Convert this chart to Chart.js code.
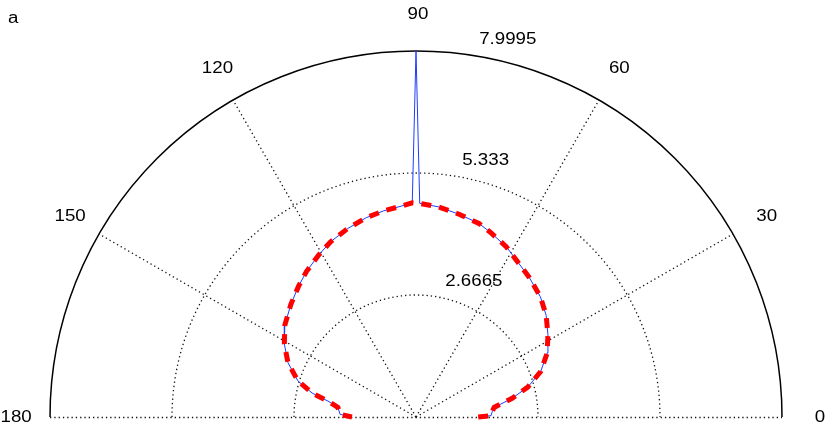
<!DOCTYPE html>
<html>
<head>
<meta charset="utf-8">
<script src="https://cdn.jsdelivr.net/npm/chart.js@4/dist/chart.umd.min.js"></script>
<style>
  html, body { margin: 0; padding: 0; background: #fff; }
  canvas { display: block; }
</style>
</head>
<body>
<canvas id="polar" width="830" height="446"></canvas>
<script>
// angles (degrees) and radii
const thetaDeg = [0, 1, 4, 7, 11, 15, 20, 26, 32, 38, 44, 51, 57, 62, 68, 72, 78, 84, 89, 90,
  91, 94, 99, 104, 110, 116, 121, 127, 132, 138, 145, 151, 157, 163, 167, 170, 173, 178, 180];
const rBlue = [1.36, 1.64, 1.67, 1.72, 2.14, 2.53, 2.90, 3.19, 3.40, 3.61, 3.78, 3.93, 4.06, 4.21, 4.35, 4.45, 4.53, 4.62, 4.67, 7.9995,
  4.68, 4.62, 4.56, 4.49, 4.38, 4.26, 4.13, 3.98, 3.84, 3.68, 3.50, 3.29, 3.04, 2.70, 2.33, 1.93, 1.72, 1.66, 1.40];
const rRed = [1.36, 1.64, 1.67, 1.72, 2.14, 2.53, 2.90, 3.19, 3.40, 3.61, 3.78, 3.93, 4.06, 4.21, 4.35, 4.45, 4.53, 4.62, 4.67, 4.67,
  4.68, 4.62, 4.56, 4.49, 4.38, 4.26, 4.13, 3.98, 3.84, 3.68, 3.50, 3.29, 3.04, 2.70, 2.33, 1.93, 1.72, 1.66, 1.40];

const ringValues = [2.6665, 5.333, 7.9995];
const ringLabels = ["2.6665", "5.333", "7.9995"];
const spokeAngles = [30, 60, 120, 150];
const angleLabels = ["0", "30", "60", "90", "120", "150", "180"];
const panelLabel = "a";

const RMAX = 7.9995;
// where the pole sits on the page and how many px one unit is
const CX = 416, CY = 417, PX = 366 / RMAX;
const W = 830, H = 446;

const toXY = (th, r) => th.map((t, i) => ({
  x: r[i] * Math.cos(t * Math.PI / 180),
  y: r[i] * Math.sin(t * Math.PI / 180)
}));

const FONT = '16px "Liberation Sans", Arial, Helvetica, sans-serif';
const STRETCH = 1.17;

// text is wider than its font: anchor on the unstretched box, then stretch
function drawText(ctx, txt, x, y, align, base) {
  ctx.save();
  ctx.font = FONT;
  const w = ctx.measureText(txt).width;
  const left = align === "center" ? x - w / 2 : x;
  ctx.translate(left, y);
  ctx.scale(STRETCH, 1);
  ctx.fillStyle = "#000";
  ctx.textAlign = "left";
  ctx.textBaseline = base;
  ctx.fillText(txt, 0, 0);
  ctx.restore();
}

const polarGrid = {
  id: "polarGrid",
  beforeDatasetsDraw(chart) {
    const ctx = chart.ctx;
    const xs = chart.scales.x, ys = chart.scales.y;
    const cx = xs.getPixelForValue(0), cy = ys.getPixelForValue(0);
    const px = v => xs.getPixelForValue(v) - cx;
    const R = px(RMAX);

    ctx.save();
    // dotted rings and spokes
    ctx.strokeStyle = "#111";
    ctx.lineWidth = 1.3;
    ctx.setLineDash([1.3, 3]);
    ringValues.slice(0, -1).forEach(v => {
      ctx.beginPath();
      ctx.arc(cx, cy, px(v), Math.PI, 2 * Math.PI);
      ctx.stroke();
    });
    spokeAngles.forEach(a => {
      const t = a * Math.PI / 180;
      ctx.beginPath();
      ctx.moveTo(cx, cy);
      ctx.lineTo(cx + R * Math.cos(t), cy - R * Math.sin(t));
      ctx.stroke();
    });
    ctx.beginPath();
    ctx.moveTo(cx - R, cy + 0.5);
    ctx.lineTo(cx + R, cy + 0.5);
    ctx.stroke();

    // solid outer circle
    ctx.setLineDash([]);
    ctx.strokeStyle = "#000";
    ctx.lineWidth = 1.5;
    ctx.beginPath();
    ctx.arc(cx, cy, R, Math.PI, 2 * Math.PI);
    ctx.stroke();

    // ring labels, MATLAB style at 82 deg
    ctx.font = FONT;
    const sp = ctx.measureText("  ").width * STRETCH;
    const c82 = Math.cos(82 * Math.PI / 180), s82 = Math.sin(82 * Math.PI / 180);
    const rinc = ringValues[0];
    ringValues.forEach((v, i) => {
      const rr = px(v + rinc / 20);
      drawText(ctx, ringLabels[i], cx + rr * c82 + sp + 1, cy - rr * s82 - 1, "left", "bottom");
    });

    // angle labels
    angleLabels.forEach((lab, i) => {
      const t = i * 30 * Math.PI / 180;
      const rr = 1.1 * R;
      drawText(ctx, lab, cx + rr * Math.cos(t) + 0.5, cy - rr * Math.sin(t) + 0.5, "center", "middle");
    });

    drawText(ctx, panelLabel, 8, 23, "left", "alphabetic");
    ctx.restore();
  }
};

new Chart(document.getElementById("polar"), {
  type: "scatter",
  data: {
    datasets: [
      {
        label: "fit",
        data: toXY(thetaDeg, rRed),
        showLine: true,
        borderColor: "rgb(255,0,0)",
        borderWidth: 5,
        borderDash: [10, 8],
        borderCapStyle: "butt",
        pointRadius: 0,
        fill: false,
        order: 0
      },
      {
        label: "data",
        data: toXY(thetaDeg, rBlue),
        showLine: true,
        borderColor: "rgb(30,60,255)",
        borderWidth: 1,
        pointRadius: 0,
        fill: false,
        order: 1
      }
    ]
  },
  options: {
    responsive: false,
    animation: false,
    layout: { padding: 0 },
    scales: {
      x: { type: "linear", display: false, min: -CX / PX, max: (W - CX) / PX },
      y: { type: "linear", display: false, min: -(H - CY) / PX, max: CY / PX }
    },
    plugins: {
      legend: { display: false },
      tooltip: { enabled: false }
    }
  },
  plugins: [polarGrid]
});
</script>
</body>
</html>
